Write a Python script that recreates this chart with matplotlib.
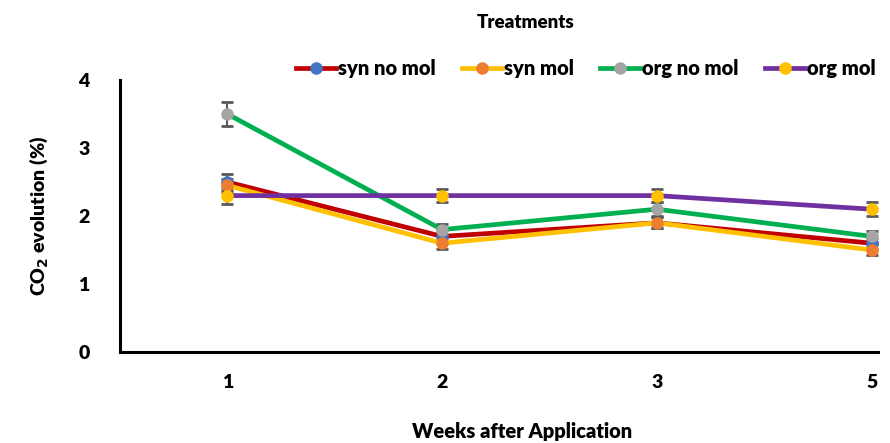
import numpy as np
import matplotlib.pyplot as plt

plt.rcParams['font.family'] = ['Lato', 'DejaVu Sans']
plt.rcParams['font.weight'] = 'bold'

weeks = ['1', '2', '3', '5']
series = ['syn no mol', 'syn mol', 'org no mol', 'org mol']
syn_no_mol = [2.5, 1.7, 1.9, 1.6]
syn_mol = [2.45, 1.6, 1.9, 1.5]
org_no_mol = [3.5, 1.8, 2.1, 1.7]
org_mol = [2.3, 2.3, 2.3, 2.1]
err_syn_no_mol = [0.12, 0.1, 0.08, 0.08]
err_syn_mol = [0.1, 0.08, 0.08, 0.08]
err_org_no_mol = [0.18, 0.08, 0.1, 0.08]
err_org_mol = [0.12, 0.1, 0.1, 0.1]

values = [syn_no_mol, syn_mol, org_no_mol, org_mol]
errors = [err_syn_no_mol, err_syn_mol, err_org_no_mol, err_org_mol]
line_colors = ['#C00000', '#FFC000', '#00B050', '#7030A0']
marker_colors = ['#4472C4', '#ED7D31', '#A5A5A5', '#FFC000']

fig = plt.figure(figsize=(8.9, 4.43), dpi=100)
ax = fig.add_axes([0.1348, 0.2054, 0.8517, 0.614])
x = np.arange(len(weeks))

for name, y, e, lc, mc in zip(series, values, errors, line_colors, marker_colors):
    ax.errorbar(x, y, yerr=e, fmt='none', ecolor='#595959', elinewidth=1.5,
                capsize=4, capthick=2, zorder=2)
    ax.plot(x, y, color=lc, lw=3.4, marker='o', ms=8, mfc=mc, mec=mc,
            label=name, zorder=3)

ax.set_xlim(-0.5, 3.03)
ax.set_ylim(0, 4)
ax.set_yticks([0, 1, 2, 3, 4])
ax.set_xticks(x)
ax.set_xticklabels(weeks)
ax.tick_params(length=0, labelsize=14, pad=16)
ax.tick_params(axis='y', pad=22)
for t in ax.get_xticklabels() + ax.get_yticklabels():
    t.set_fontweight('heavy')
for s in ['top', 'right']:
    ax.spines[s].set_visible(False)
for s in ['left', 'bottom']:
    ax.spines[s].set_linewidth(2.2)

ax.set_ylabel('CO$_2$ evolution (%)', fontsize=14, fontweight='heavy', labelpad=20)
fig.text(0.587, 0.025, 'Weeks after Application', ha='center', va='center',
         fontsize=14.5, fontweight='heavy')
fig.text(0.591, 0.95, 'Treatments', ha='center', va='center', fontsize=13.5,
         fontweight='heavy')
fig.legend(loc='center', bbox_to_anchor=(0.658, 0.846), ncol=4, frameon=False,
           handlelength=2.0, columnspacing=1.3, handletextpad=0.1,
           borderaxespad=0, borderpad=0, prop={'size': 14.5, 'weight': 'heavy'})

fig.savefig('out.png', dpi=100)
